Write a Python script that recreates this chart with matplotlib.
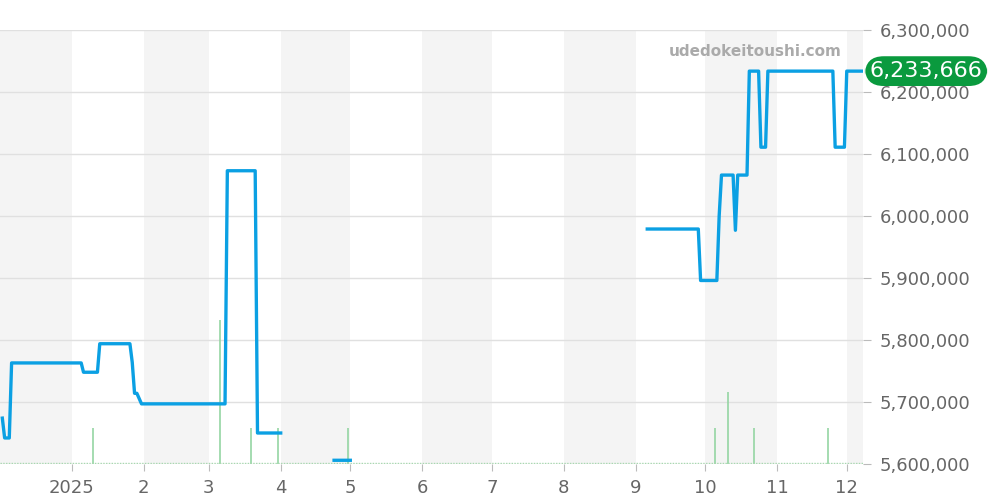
import matplotlib
matplotlib.use("Agg")
import matplotlib.pyplot as plt
import numpy as np
import pandas as pd

# Price series (None = gap)
price_dates = ["2024-12-02", "2024-12-03", "2024-12-05", "2024-12-06", "2025-01-05", "2025-01-06",
               "2025-01-12", "2025-01-13", "2025-01-26", "2025-01-27", "2025-01-28", "2025-01-29",
               "2025-01-31", "2025-02-01", "2025-03-08", "2025-03-09", "2025-03-21", "2025-03-22",
               "2025-04-01", "2025-04-02",
               "2025-04-24", "2025-05-01", "2025-05-02",
               "2025-09-06", "2025-09-28", "2025-09-29", "2025-10-06", "2025-10-07", "2025-10-08",
               "2025-10-13", "2025-10-14", "2025-10-15", "2025-10-19", "2025-10-20", "2025-10-24",
               "2025-10-25", "2025-10-27", "2025-10-28", "2025-11-25", "2025-11-26", "2025-11-30",
               "2025-12-01", "2025-12-08"]
price_values = [5674000, 5642000, 5642000, 5763000, 5763000, 5748000,
                5748000, 5794000, 5794000, 5764000, 5714000, 5714000,
                5697000, 5697000, 5697000, 6073000, 6073000, 5650000,
                5650000, None,
                5606000, 5606000, None,
                5979000, 5979000, 5896000, 5896000, 6000000, 6066000,
                6066000, 5977000, 6066000, 6066000, 6233666, 6233666,
                6111000, 6111000, 6233666, 6233666, 6111000, 6111000,
                6233666, 6233666]

# Volume (number of transactions)
vol_dates = ["2025-01-10", "2025-03-06", "2025-03-19", "2025-03-31", "2025-04-30",
             "2025-10-05", "2025-10-11", "2025-10-22", "2025-11-23"]
vol_values = [1, 4, 1, 1, 1, 1, 2, 1, 1]

month_labels = ["2025", "2", "3", "4", "5", "6", "7", "8", "9", "10", "11", "12"]
y_ticks = [5600000, 5700000, 5800000, 5900000, 6000000, 6100000, 6200000, 6300000]
last_price = 6233666

pdates = pd.to_datetime(price_dates)
pvals = np.array([np.nan if v is None else v for v in price_values], dtype=float)
vdates = pd.to_datetime(vol_dates)

fig = plt.figure(figsize=(10, 5), dpi=100)
ax = fig.add_axes([0.0, 0.072, 0.863, 0.868])
x0 = pd.Timestamp("2024-12-01")
x1 = pd.Timestamp("2025-12-08")

ax2 = ax.twinx()
ax.set_zorder(ax2.get_zorder() + 1)
ax.patch.set_visible(False)
ax2.patch.set_visible(False)

# alternating month bands (background, on volume axis)
months = pd.date_range("2024-12-01", "2026-01-01", freq="MS")
for i in range(len(months) - 1):
    if i % 2 == 0:
        ax2.axvspan(months[i], months[i + 1], color="#f4f4f4", zorder=0, lw=0)
ax2.set_ylim(0, 12.05)
for yt in y_ticks:
    ax2.axhline((yt - 5600000) / 700000 * 12.05, color="#e0e0e0", lw=1, zorder=1)

ax2.vlines(vdates, 0, vol_values, color="#95d5a3", lw=1.2, zorder=2)
ax2.plot([x0, x1], [0.03, 0.03], color="#a8d8b0", lw=1, ls=(0, (1, 1)), zorder=2)
ax2.set_yticks([])
for s in ax2.spines.values():
    s.set_visible(False)

ax.plot(pdates, pvals, color="#0ba0e3", lw=2.4, zorder=3, solid_joinstyle="round")

ax.set_xlim(x0, x1)
ax2.set_xlim(x0, x1)
ax.set_ylim(5600000, 6300000)

ax.yaxis.tick_right()
ax.set_yticks(y_ticks)
ax.set_yticklabels([f"{v:,}" for v in y_ticks])
ax.tick_params(axis="y", colors="#bbbbbb", labelcolor="#666666", labelsize=13, length=6, pad=6)

xt = pd.date_range("2025-01-01", "2025-12-01", freq="MS")
ax.set_xticks(xt)
ax.set_xticklabels(month_labels)
ax.tick_params(axis="x", colors="#bbbbbb", labelcolor="#666666", labelsize=13, length=5, pad=6)
for s in ax.spines.values():
    s.set_visible(False)

fig.text(0.755, 0.896, "udedokeitoushi.com", ha="center", va="center",
         fontsize=11, fontweight="bold", color="#aaaaaa")

ax.annotate(f"{last_price:,}", xy=(1.0, last_price), xycoords=("axes fraction", "data"),
            xytext=(45.5, 0), textcoords="offset points", ha="center", va="center",
            fontsize=16, color="white",
            bbox=dict(boxstyle="round,pad=0.22,rounding_size=0.85", fc="#0a9a3e", ec="none"),
            annotation_clip=False, zorder=5)

fig.savefig("out.png", dpi=100)
